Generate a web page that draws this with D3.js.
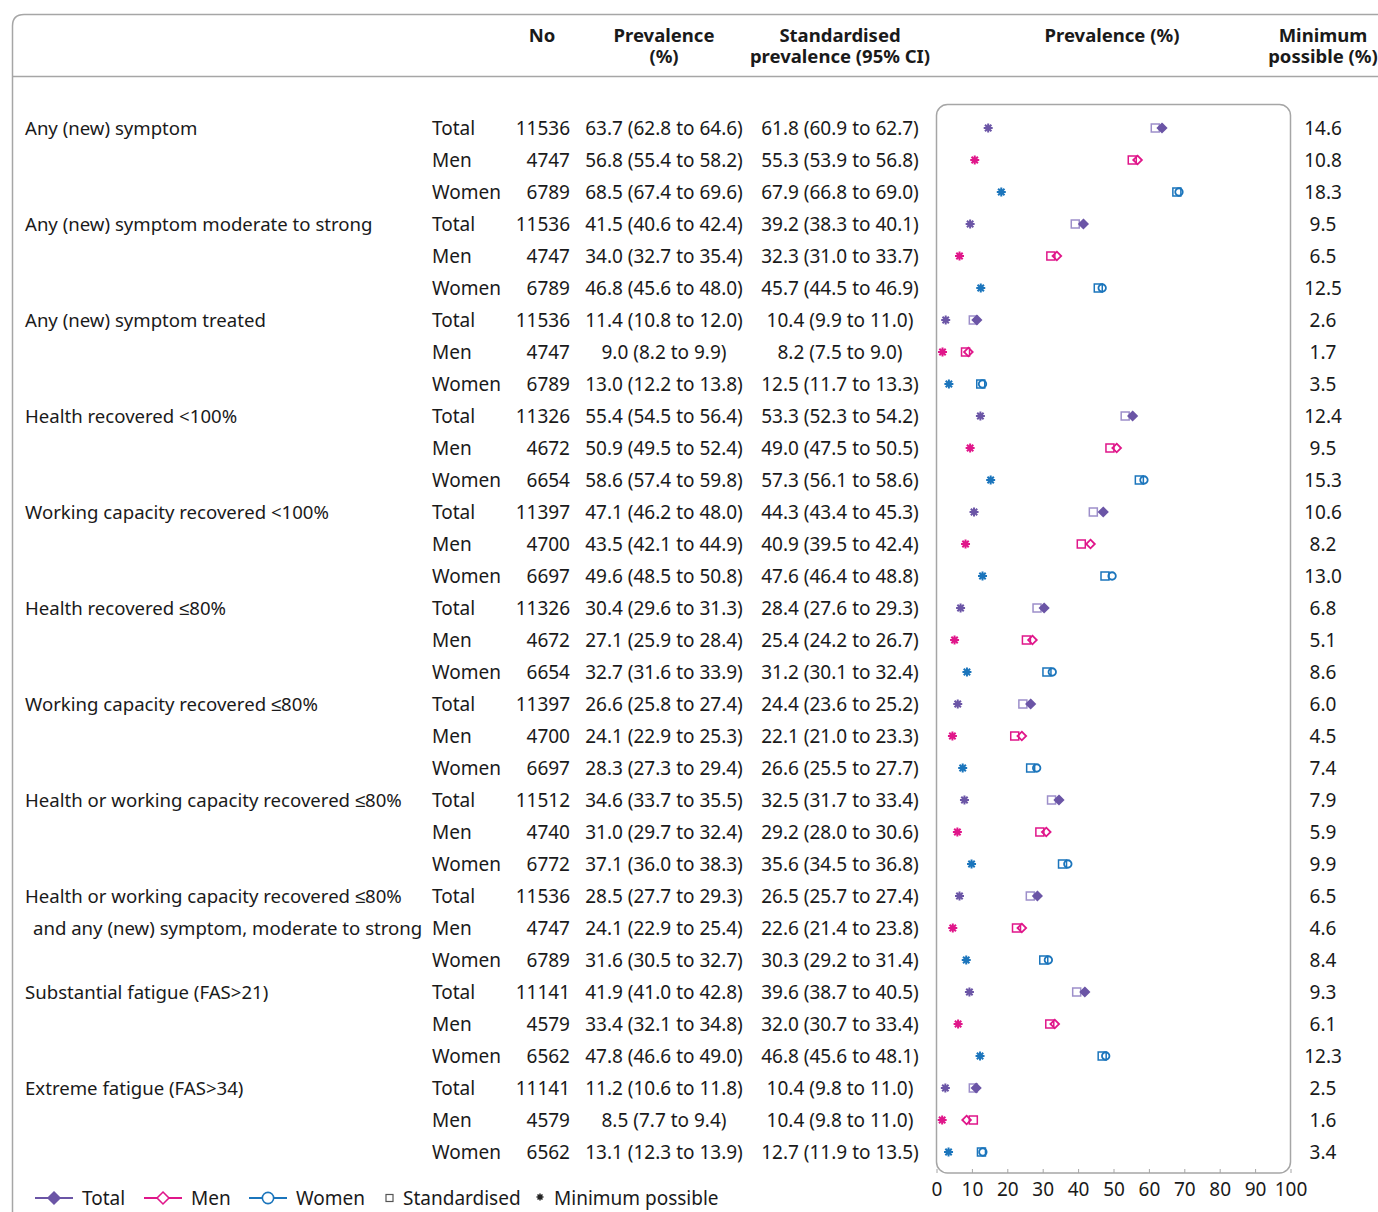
<!DOCTYPE html>
<html>
<head>
<meta charset="utf-8">
<script src="https://cdn.jsdelivr.net/npm/d3@7"></script>
<style>
  body { margin: 0; background: #fff; }
  svg text { font-family: "Noto Sans", sans-serif; fill: #1a1a1a; }
</style>
</head>
<body>
<svg id="chart" width="1378" height="1212"></svg>
<script>
// outcome labels (one per block of three rows)
const measures = [
  ["Any (new) symptom"],
  ["Any (new) symptom moderate to strong"],
  ["Any (new) symptom treated"],
  ["Health recovered <100%"],
  ["Working capacity recovered <100%"],
  ["Health recovered \u226480%"],
  ["Working capacity recovered \u226480%"],
  ["Health or working capacity recovered \u226480%"],
  ["Health or working capacity recovered \u226480%", "and any (new) symptom, moderate to strong"],
  ["Substantial fatigue (FAS>21)"],
  ["Extreme fatigue (FAS>34)"]
];
const groups = ["Total", "Men", "Women"];

const nObs = [11536,4747,6789, 11536,4747,6789, 11536,4747,6789, 11326,4672,6654, 11397,4700,6697,
  11326,4672,6654, 11397,4700,6697, 11512,4740,6772, 11536,4747,6789, 11141,4579,6562, 11141,4579,6562];
const prev = [63.7,56.8,68.5, 41.5,34.0,46.8, 11.4,9.0,13.0, 55.4,50.9,58.6, 47.1,43.5,49.6,
  30.4,27.1,32.7, 26.6,24.1,28.3, 34.6,31.0,37.1, 28.5,24.1,31.6, 41.9,33.4,47.8, 11.2,8.5,13.1];
const prevLo = [62.8,55.4,67.4, 40.6,32.7,45.6, 10.8,8.2,12.2, 54.5,49.5,57.4, 46.2,42.1,48.5,
  29.6,25.9,31.6, 25.8,22.9,27.3, 33.7,29.7,36.0, 27.7,22.9,30.5, 41.0,32.1,46.6, 10.6,7.7,12.3];
const prevHi = [64.6,58.2,69.6, 42.4,35.4,48.0, 12.0,9.9,13.8, 56.4,52.4,59.8, 48.0,44.9,50.8,
  31.3,28.4,33.9, 27.4,25.3,29.4, 35.5,32.4,38.3, 29.3,25.4,32.7, 42.8,34.8,49.0, 11.8,9.4,13.9];
const stdPrev = [61.8,55.3,67.9, 39.2,32.3,45.7, 10.4,8.2,12.5, 53.3,49.0,57.3, 44.3,40.9,47.6,
  28.4,25.4,31.2, 24.4,22.1,26.6, 32.5,29.2,35.6, 26.5,22.6,30.3, 39.6,32.0,46.8, 10.4,10.4,12.7];
const stdLo = [60.9,53.9,66.8, 38.3,31.0,44.5, 9.9,7.5,11.7, 52.3,47.5,56.1, 43.4,39.5,46.4,
  27.6,24.2,30.1, 23.6,21.0,25.5, 31.7,28.0,34.5, 25.7,21.4,29.2, 38.7,30.7,45.6, 9.8,9.8,11.9];
const stdHi = [62.7,56.8,69.0, 40.1,33.7,46.9, 11.0,9.0,13.3, 54.2,50.5,58.6, 45.3,42.4,48.8,
  29.3,26.7,32.4, 25.2,23.3,27.7, 33.4,30.6,36.8, 27.4,23.8,31.4, 40.5,33.4,48.1, 11.0,11.0,13.5];
const minPossible = [14.6,10.8,18.3, 9.5,6.5,12.5, 2.6,1.7,3.5, 12.4,9.5,15.3, 10.6,8.2,13.0,
  6.8,5.1,8.6, 6.0,4.5,7.4, 7.9,5.9,9.9, 6.5,4.6,8.4, 9.3,6.1,12.3, 2.5,1.6,3.4];
const xTicks = [0,10,20,30,40,50,60,70,80,90,100];

const colors = { Total: "#6b55a6", Men: "#e0168a", Women: "#1b75bc" };
const lightColors = { Total: "#9d8fca", Men: "#e0168a", Women: "#1b75bc" };
const frameColor = "#a6a6a6";

const rows = nObs.map((n, i) => ({
  i, n, group: groups[i % 3],
  prev: prev[i], prevLo: prevLo[i], prevHi: prevHi[i],
  std: stdPrev[i], stdLo: stdLo[i], stdHi: stdHi[i],
  min: minPossible[i]
}));

const svg = d3.select("#chart");
const fs = 19;

const x = d3.scaleLinear().domain([0, 100]).range([936.5, 1290.5]);
const y = d3.scalePoint().domain(d3.range(rows.length)).range([128, 1152]);

/* frame: top rule, header rule and left edge */
svg.append("path")
  .attr("d", "M12.5,1212 V26 Q12.5,14.5 24,14.5 H1378")
  .attr("fill", "none").attr("stroke", frameColor).attr("stroke-width", 1.5);
svg.append("line")
  .attr("x1", 12).attr("x2", 1378).attr("y1", 76.5).attr("y2", 76.5)
  .attr("stroke", frameColor).attr("stroke-width", 1.5);

/* column headers, one text per line */
const headers = [
  { x: 542, lines: ["No"] },
  { x: 664, lines: ["Prevalence", "(%)"] },
  { x: 840, lines: ["Standardised", "prevalence (95% CI)"] },
  { x: 1112, lines: ["Prevalence (%)"] },
  { x: 1323, lines: ["Minimum", "possible (%)"] }
];
headers.forEach(h => {
  h.lines.forEach((l, k) => {
    svg.append("text")
      .attr("x", h.x).attr("y", 42 + k * 21)
      .attr("text-anchor", "middle")
      .style("font-size", "18.5px").style("font-weight", "bold")
      .text(l);
  });
});

/* outcome labels */
measures.forEach((m, k) => {
  m.forEach((line, j) => {
    svg.append("text")
      .attr("x", j === 0 ? 25 : 33).attr("y", y(k * 3 + j))
      .attr("dy", "0.35em")
      .style("font-size", "18.6px")
      .text(line);
  });
});

/* table cells */
const fmt = d3.format(".1f");
const cells = svg.append("g").selectAll("g.row")
  .data(rows).enter().append("g").attr("class", "row")
  .attr("transform", d => "translate(0," + y(d.i) + ")");

cells.append("text").attr("x", 432).text(d => d.group);
cells.append("text").attr("x", 570).attr("text-anchor", "end").text(d => d.n);
cells.append("text").attr("x", 664).attr("text-anchor", "middle")
  .text(d => fmt(d.prev) + " (" + fmt(d.prevLo) + " to " + fmt(d.prevHi) + ")");
cells.append("text").attr("x", 840).attr("text-anchor", "middle")
  .text(d => fmt(d.std) + " (" + fmt(d.stdLo) + " to " + fmt(d.stdHi) + ")");
cells.append("text").attr("x", 1323).attr("text-anchor", "middle").text(d => fmt(d.min));
cells.selectAll("text").attr("dy", "0.35em").style("font-size", fs + "px");

/* plot box */
svg.append("rect")
  .attr("x", x(0)).attr("y", 104.5)
  .attr("width", x(100) - x(0)).attr("height", 1173 - 104.5)
  .attr("rx", 11)
  .attr("fill", "none").attr("stroke", frameColor).attr("stroke-width", 1.5);

const xAxis = svg.append("g")
  .attr("transform", "translate(0,1173)")
  .call(d3.axisBottom(x).tickValues(xTicks).tickSize(-4).tickPadding(10));
xAxis.select(".domain").remove();
xAxis.selectAll("line").attr("stroke", frameColor);
xAxis.selectAll("text")
  .style("font-family", "'Noto Sans', sans-serif")
  .style("font-size", fs + "px").attr("fill", "#1a1a1a");

/* marker helpers */
const asteriskPath = r => {
  const a = r * Math.SQRT1_2;
  return `M0,${-r}V${r}M${-r},0H${r}M${-a},${-a}L${a},${a}M${-a},${a}L${a},${-a}`;
};
const diamond = d3.symbol().type(d3.symbolDiamond2).size(48);
const circle = d3.symbol().type(d3.symbolCircle).size(44);

const marks = svg.append("g").selectAll("g.mark")
  .data(rows).enter().append("g").attr("class", "mark")
  .attr("transform", d => "translate(0," + y(d.i) + ")");

// minimum possible
marks.append("path")
  .attr("transform", d => "translate(" + x(d.min) + ",0)")
  .attr("d", asteriskPath(4.5))
  .attr("stroke", d => colors[d.group]).attr("stroke-width", 2).attr("fill", "none");

// standardised
marks.append("rect")
  .attr("x", d => x(d.std) - 4).attr("y", -4)
  .attr("width", 8).attr("height", 8)
  .attr("fill", "#fff")
  .attr("stroke", d => lightColors[d.group]).attr("stroke-width", 1.5);

// crude prevalence
marks.append("path")
  .attr("transform", d => "translate(" + x(d.prev) + ",0)")
  .attr("d", d => d.group === "Women" ? circle() : diamond())
  .attr("fill", d => d.group === "Total" ? colors.Total : "#fff")
  .attr("fill-opacity", d => d.group === "Total" ? 1 : 0)
  .attr("stroke", d => colors[d.group]).attr("stroke-width", 1.8);

/* legend */
const legend = svg.append("g").attr("transform", "translate(0,1198)");
const legItems = [
  { x: 35, g: "Total", label: "Total" },
  { x: 144, g: "Men", label: "Men" },
  { x: 249, g: "Women", label: "Women" }
];
legItems.forEach(it => {
  legend.append("line").attr("x1", it.x).attr("x2", it.x + 38)
    .attr("stroke", colors[it.g]).attr("stroke-width", 2);
  legend.append("path")
    .attr("transform", "translate(" + (it.x + 19) + ",0)")
    .attr("d", it.g === "Women" ? d3.symbol().type(d3.symbolCircle).size(100)()
                                : d3.symbol().type(d3.symbolDiamond2).size(90)())
    .attr("fill", it.g === "Total" ? colors.Total : "#fff")
    .attr("stroke", colors[it.g]).attr("stroke-width", 1.6);
  legend.append("text").attr("x", it.x + 47).attr("dy", "0.35em")
    .style("font-size", fs + "px").text(it.label);
});
legend.append("rect").attr("x", 386).attr("y", -3.5).attr("width", 7).attr("height", 7)
  .attr("fill", "#fff").attr("stroke", "#555").attr("stroke-width", 1.2);
legend.append("text").attr("x", 403).attr("dy", "0.35em")
  .style("font-size", fs + "px").text("Standardised");
legend.append("path").attr("transform", "translate(540,-1)")
  .attr("d", asteriskPath(3.5)).attr("stroke", "#222").attr("stroke-width", 1.5);
legend.append("text").attr("x", 554).attr("dy", "0.35em")
  .style("font-size", fs + "px").text("Minimum possible");
</script>
</body>
</html>
